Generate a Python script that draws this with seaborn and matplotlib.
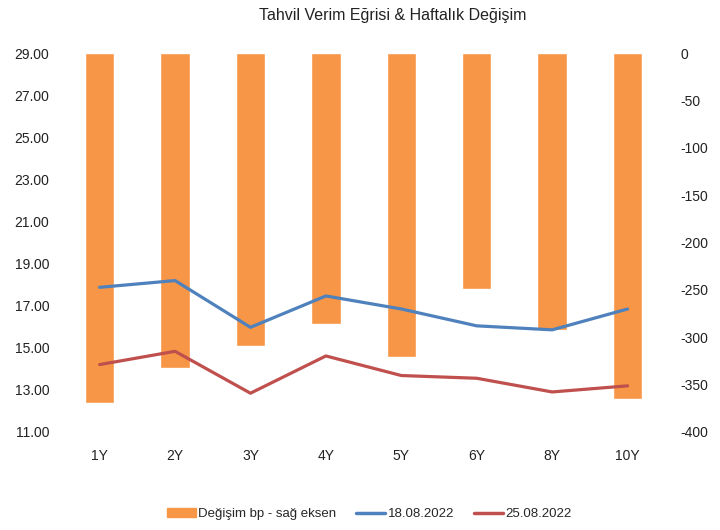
import pandas as pd
import seaborn as sns
from matplotlib import pyplot as plt
from matplotlib.patches import Patch
from matplotlib.lines import Line2D

maturities = ['1Y', '2Y', '3Y', '4Y', '5Y', '6Y', '8Y', '10Y']
change_bp = [-369, -333, -309, -286, -321, -249, -292, -365]
yield_1808 = [17.87, 18.19, 15.97, 17.46, 16.84, 16.04, 15.85, 16.84]
yield_2508 = [14.20, 14.83, 12.84, 14.61, 13.68, 13.55, 12.90, 13.19]

ORANGE = '#F79646'
BLUE = '#4F81BD'
RED = '#C0504D'

sns.set_theme(style='white')
plt.rcParams['font.family'] = ['Liberation Sans', 'DejaVu Sans']
plt.rcParams['axes.unicode_minus'] = False

df = pd.DataFrame({'vade': maturities, 'degisim': change_bp,
                   'y1': yield_1808, 'y2': yield_2508})

fig = plt.figure(figsize=(7.2, 5.3), dpi=100)
ax = fig.add_axes([0.086, 0.185, 0.838, 0.715])
ax2 = ax.twinx()

# bars on the right axis, lines on the left one drawn above them
sns.barplot(data=df, x='vade', y='degisim', color=ORANGE, saturation=1,
            width=0.39, ax=ax2)
sns.lineplot(data=df, x='vade', y='y1', color=BLUE, lw=2.3, sort=False, ax=ax)
sns.lineplot(data=df, x='vade', y='y2', color=RED, lw=2.3, sort=False, ax=ax)

ax.set_zorder(ax2.get_zorder() + 1)
ax.patch.set_visible(False)

ax.set_ylim(11, 29)
ax.set_yticks(range(11, 30, 2))
ax.set_yticklabels([f'{v:.2f}' for v in range(11, 30, 2)])
ax2.set_ylim(-400, 0)
ax2.set_yticks(range(-400, 1, 50))
ax.set_xlim(-0.5, 7.5)

for a in (ax, ax2):
    a.set_xlabel('')
    a.set_ylabel('')
    a.tick_params(length=0, labelsize=10, colors='#222222')
    for s in a.spines.values():
        s.set_visible(False)
ax.tick_params(axis='x', pad=12)
ax.tick_params(axis='y', pad=9)
ax2.tick_params(axis='y', pad=11)

fig.suptitle('Tahvil Verim Eğrisi & Haftalık Değişim', x=0.546, y=0.984,
             fontsize=11.5, color='#222222')

handles = [Patch(color=ORANGE, label='Değişim bp - sağ eksen'),
           Line2D([], [], color=BLUE, lw=2.5, label='18.08.2022'),
           Line2D([], [], color=RED, lw=2.5, label='25.08.2022')]
fig.legend(handles=handles, loc='center', bbox_to_anchor=(0.513, 0.03),
           ncol=3, frameon=False, fontsize=9.5, handlelength=2.2,
           handletextpad=0.2, columnspacing=1.5)

fig.savefig('out.png')
